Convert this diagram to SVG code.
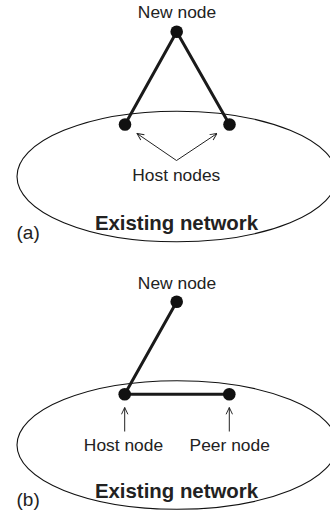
<svg xmlns="http://www.w3.org/2000/svg" width="330" height="516" viewBox="0 0 330 516">
<defs>
<style>
.lbl{font-family:"Liberation Sans",Arial,Helvetica,sans-serif;font-size:17.4px;fill:#222;}
.net{font-family:"Liberation Sans",Arial,Helvetica,sans-serif;font-size:20.4px;font-weight:bold;fill:#222;}
.tag{font-family:"Liberation Sans",Arial,Helvetica,sans-serif;font-size:19px;fill:#222;}
.ell{fill:none;stroke:#111;stroke-width:1.1;}
.edge{stroke:#1a1a1a;stroke-width:3;stroke-linecap:round;fill:none;}
.ptr{stroke:#222;stroke-width:1;fill:none;marker-end:url(#open);}
.node{fill:#111;}
</style>
<marker id="open" viewBox="0 0 10 10" refX="9.5" refY="5" markerWidth="8" markerHeight="8" markerUnits="userSpaceOnUse" orient="auto">
<path d="M1,1 L9.5,5 L1,9" fill="none" stroke="#222" stroke-width="1.2"/>
</marker>
</defs>

<g id="panel-a">
<g id="network-a">
<ellipse class="ell" cx="177" cy="176.5" rx="160" ry="65.3"/>
<text class="net" x="176.5" y="230" text-anchor="middle">Existing network</text>
</g>
<text id="tag-a" class="tag" x="16.5" y="239">(a)</text>
<g id="connectors-a">
<line class="edge" x1="176.7" y1="31.7" x2="125" y2="124.5"/>
<line class="edge" x1="176.7" y1="31.7" x2="229.5" y2="124.5"/>
<line class="ptr" x1="176.5" y1="160.5" x2="137" y2="133.5"/>
<line class="ptr" x1="176.5" y1="160.5" x2="217" y2="133.5"/>
</g>
<g id="new-node-a">
<circle class="node" cx="176.7" cy="31.7" r="6.3"/>
<text class="lbl" x="177" y="18" text-anchor="middle">New node</text>
</g>
<g id="host-node-a1"><circle class="node" cx="125" cy="124.5" r="6.3"/></g>
<g id="host-node-a2"><circle class="node" cx="229.5" cy="124.5" r="6.3"/></g>
<g id="host-label-a"><text class="lbl" x="176.3" y="181" text-anchor="middle">Host nodes</text></g>
</g>

<g id="panel-b">
<g id="network-b">
<ellipse class="ell" cx="177" cy="445" rx="160" ry="64.3"/>
<text class="net" x="176.5" y="498" text-anchor="middle">Existing network</text>
</g>
<text id="tag-b" class="tag" x="16.5" y="506">(b)</text>
<g id="connectors-b">
<line class="edge" x1="176.7" y1="301.7" x2="124.7" y2="394.3"/>
<line class="edge" x1="124.7" y1="394.3" x2="229.3" y2="394.3"/>
<line class="ptr" x1="124.7" y1="431.5" x2="124.7" y2="407.5"/>
<line class="ptr" x1="229.3" y1="431.5" x2="229.3" y2="407.5"/>
</g>
<g id="new-node-b">
<circle class="node" cx="176.7" cy="301.7" r="6.3"/>
<text class="lbl" x="177" y="288.5" text-anchor="middle">New node</text>
</g>
<g id="host-node-b">
<circle class="node" cx="124.7" cy="394.3" r="6.3"/>
<text class="lbl" x="123.5" y="451" text-anchor="middle">Host node</text>
</g>
<g id="peer-node-b">
<circle class="node" cx="229.3" cy="394.3" r="6.3"/>
<text class="lbl" x="229.7" y="451" text-anchor="middle">Peer node</text>
</g>
</g>
</svg>
